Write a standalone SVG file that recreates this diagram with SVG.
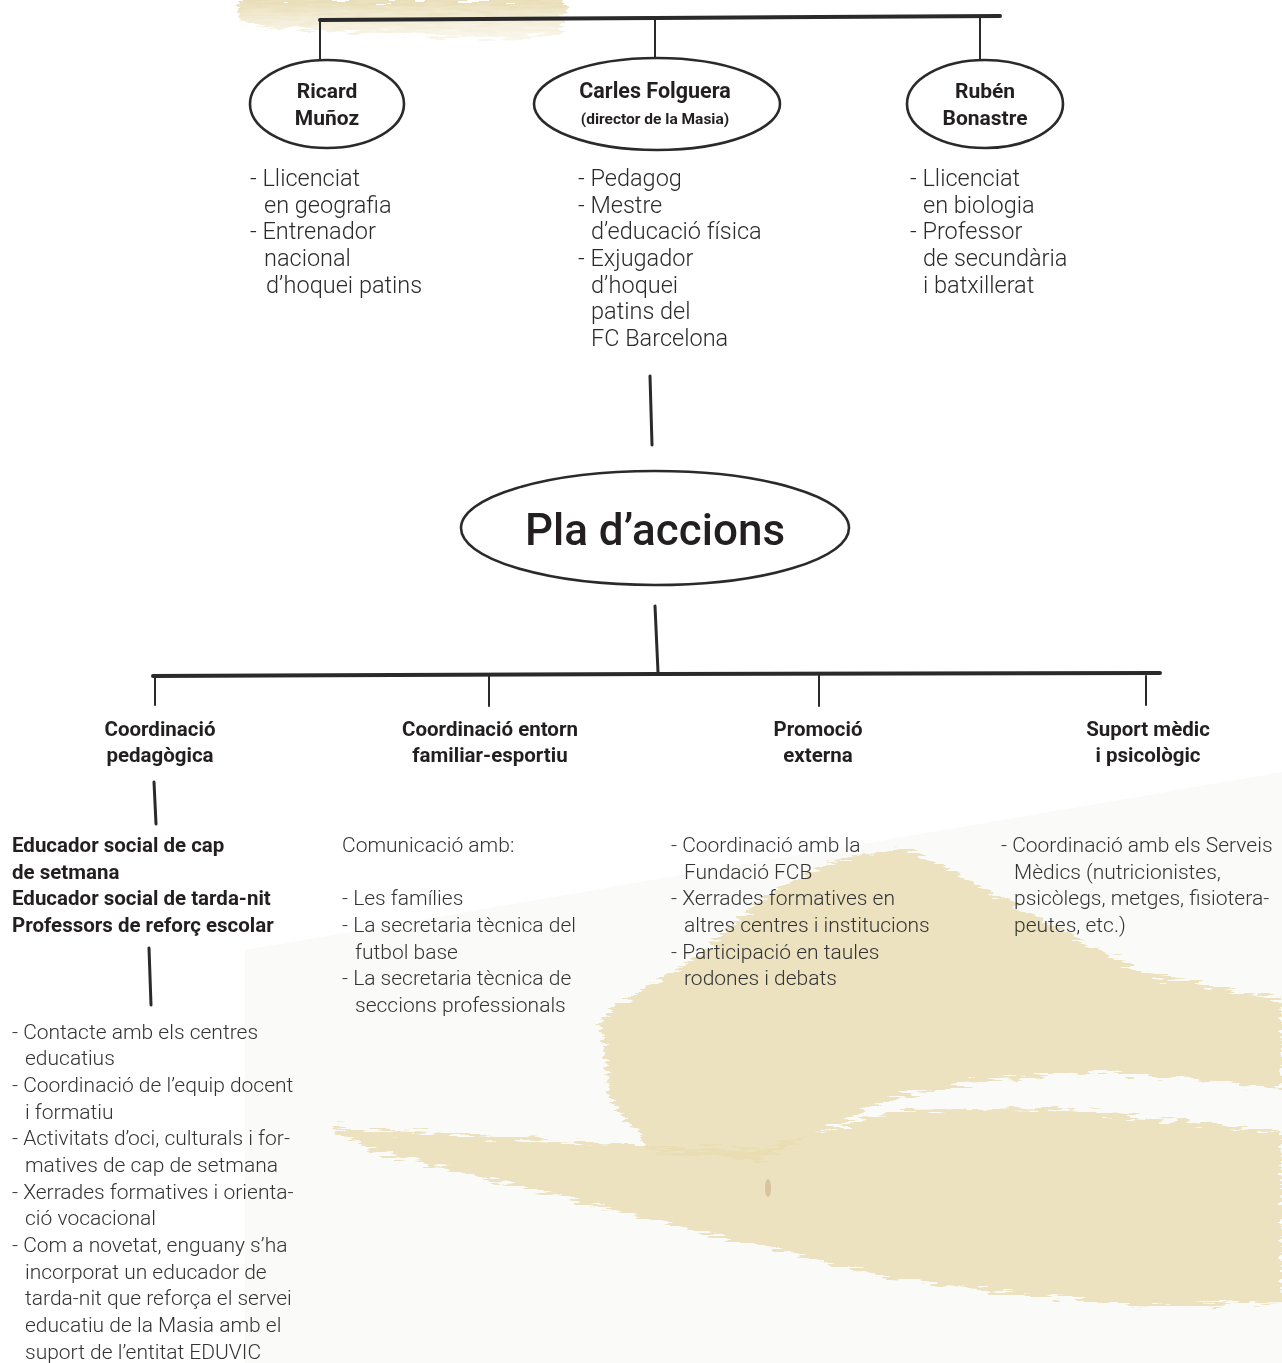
<svg xmlns="http://www.w3.org/2000/svg" width="1282" height="1363" viewBox="0 0 1282 1363">
<defs>
<filter id="rough" x="-5%" y="-5%" width="110%" height="110%">
<feTurbulence type="fractalNoise" baseFrequency="0.04 0.3" numOctaves="2" seed="3" result="n"/>
<feDisplacementMap in="SourceGraphic" in2="n" scale="18" xChannelSelector="R" yChannelSelector="G"/>
</filter>
<linearGradient id="topfade" x1="0" y1="0" x2="0" y2="1">
<stop offset="0" stop-color="#e6d9ae" stop-opacity="0.9"/>
<stop offset="1" stop-color="#efe6c8" stop-opacity="0.3"/>
</linearGradient>
</defs>
<style>
.bg{fill:#e8dcb2;opacity:0.8}
.ln{stroke:#2a2a2a;fill:none;stroke-linecap:round}
.el{fill:#ffffff;stroke:#2a2a2a;stroke-width:2.6}
.nm{font-family:Roboto,"Liberation Sans",sans-serif;font-weight:700;fill:#231f20;text-anchor:middle}
.tb{font-family:Roboto,"Liberation Sans",sans-serif;font-weight:300;font-size:23.5px;fill:#2b2b2b}
.hd{font-family:Roboto,"Liberation Sans",sans-serif;font-weight:700;font-size:20.5px;fill:#231f20;text-anchor:middle}
.bb{font-family:Roboto,"Liberation Sans",sans-serif;font-weight:700;font-size:20.5px;fill:#231f20}
.bd{font-family:Roboto,"Liberation Sans",sans-serif;font-weight:300;font-size:21px;fill:#333333}
</style>
<rect width="1282" height="1363" fill="#ffffff"/>
<g id="background">
<polygon points="245,950 1282,772 1282,1363 245,1363" fill="#fafaf8"/>
<g filter="url(#rough)">
<polygon points="238,0 565,0 562,32 520,40 440,36 350,32 270,28 240,20" fill="url(#topfade)"/>
<polygon class="bg" points="600,1020 640,990 700,955 760,900 830,862 900,848 960,875 1050,925 1150,975 1282,1000 1282,1088 1200,1080 1100,1072 1000,1078 900,1095 760,1160 650,1150 610,1100"/>
<polygon class="bg" points="330,1128 450,1134 600,1144 760,1150 900,1110 1050,1108 1282,1132 1282,1302 1150,1306 1000,1292 880,1276 700,1232 500,1182 370,1150"/>
</g>
<ellipse cx="768" cy="1188" rx="3" ry="9" fill="#b58a5a" opacity="0.35"/>
</g>
<g id="connectors">
<path class="ln" stroke-width="4" d="M320,20 L655,18 L1000,16"/>
<path class="ln" stroke-width="2" d="M320,20 V60 M655,18 V57 M980,17 V60"/>
<path class="ln" stroke-width="3" d="M650,376 L652,445"/>
<path class="ln" stroke-width="3" d="M655,606 L658,672"/>
<path class="ln" stroke-width="4" d="M153,676 L657,674 L1160,673"/>
<path class="ln" stroke-width="2" d="M155,676 V705 M489,676 V706 M819,675 V706 M1146,676 V705"/>
<path class="ln" stroke-width="3" d="M154,782 L156,824"/>
<path class="ln" stroke-width="3" d="M149,948 L151,1005"/>
</g>
<g id="node-ricard">
<ellipse class="el" cx="327" cy="104" rx="77" ry="44"/>
<text class="nm" font-size="21" x="327" y="98">Ricard</text>
<text class="nm" font-size="21" x="327" y="125">Muñoz</text>
<text class="tb" x="250" y="186">- Llicenciat</text>
<text class="tb" x="264" y="213">en geografia</text>
<text class="tb" x="250" y="239">- Entrenador</text>
<text class="tb" x="264" y="266">nacional</text>
<text class="tb" x="266" y="293">d’hoquei patins</text>
</g>
<g id="node-carles">
<ellipse class="el" cx="657" cy="104" rx="123" ry="46"/>
<text class="nm" font-size="21.5" x="655" y="98">Carles Folguera</text>
<text class="nm" font-size="15.5" x="655" y="124">(director de la Masia)</text>
<text class="tb" x="578" y="186">- Pedagog</text>
<text class="tb" x="578" y="213">- Mestre</text>
<text class="tb" x="591" y="239">d’educació física</text>
<text class="tb" x="578" y="266">- Exjugador</text>
<text class="tb" x="591" y="293">d’hoquei</text>
<text class="tb" x="591" y="319">patins del</text>
<text class="tb" x="591" y="346">FC Barcelona</text>
</g>
<g id="node-ruben">
<ellipse class="el" cx="985" cy="104" rx="78" ry="44"/>
<text class="nm" font-size="21" x="985" y="98">Rubén</text>
<text class="nm" font-size="21" x="985" y="125">Bonastre</text>
<text class="tb" x="910" y="186">- Llicenciat</text>
<text class="tb" x="923" y="213">en biologia</text>
<text class="tb" x="910" y="239">- Professor</text>
<text class="tb" x="923" y="266">de secundària</text>
<text class="tb" x="923" y="293">i batxillerat</text>
</g>
<g id="node-pla">
<ellipse class="el" cx="655" cy="528" rx="194" ry="57"/>
<text x="655" y="545" font-family="Roboto,'Liberation Sans',sans-serif" font-weight="500" font-size="44" fill="#231f20" text-anchor="middle">Pla d’accions</text>
</g>
<g id="node-pedagogica">
<text class="hd" x="160" y="736">Coordinació</text>
<text class="hd" x="160" y="762">pedagògica</text>
<text class="bb" x="12" y="852">Educador social de cap</text>
<text class="bb" x="12" y="879">de setmana</text>
<text class="bb" x="12" y="905">Educador social de tarda-nit</text>
<text class="bb" x="12" y="932">Professors de reforç escolar</text>
<text class="bd" x="12" y="1039">- Contacte amb els centres</text>
<text class="bd" x="25" y="1065">educatius</text>
<text class="bd" x="12" y="1092">- Coordinació de l’equip docent</text>
<text class="bd" x="25" y="1119">i formatiu</text>
<text class="bd" x="12" y="1145">- Activitats d’oci, culturals i for-</text>
<text class="bd" x="25" y="1172">matives de cap de setmana</text>
<text class="bd" x="12" y="1199">- Xerrades formatives i orienta-</text>
<text class="bd" x="25" y="1225">ció vocacional</text>
<text class="bd" x="12" y="1252">- Com a novetat, enguany s’ha</text>
<text class="bd" x="25" y="1279">incorporat un educador de</text>
<text class="bd" x="25" y="1305">tarda-nit que reforça el servei</text>
<text class="bd" x="25" y="1332">educatiu de la Masia amb el</text>
<text class="bd" x="25" y="1359">suport de l’entitat EDUVIC</text>
</g>
<g id="node-familiar">
<text class="hd" x="490" y="736">Coordinació entorn</text>
<text class="hd" x="490" y="762">familiar-esportiu</text>
<text class="bd" x="342" y="852">Comunicació amb:</text>
<text class="bd" x="342" y="905">- Les famílies</text>
<text class="bd" x="342" y="932">- La secretaria tècnica del</text>
<text class="bd" x="355" y="959">futbol base</text>
<text class="bd" x="342" y="985">- La secretaria tècnica de</text>
<text class="bd" x="355" y="1012">seccions professionals</text>
</g>
<g id="node-promocio">
<text class="hd" x="818" y="736">Promoció</text>
<text class="hd" x="818" y="762">externa</text>
<text class="bd" x="671" y="852">- Coordinació amb la</text>
<text class="bd" x="684" y="879">Fundació FCB</text>
<text class="bd" x="671" y="905">- Xerrades formatives en</text>
<text class="bd" x="684" y="932">altres centres i institucions</text>
<text class="bd" x="671" y="959">- Participació en taules</text>
<text class="bd" x="684" y="985">rodones i debats</text>
</g>
<g id="node-suport">
<text class="hd" x="1148" y="736">Suport mèdic</text>
<text class="hd" x="1148" y="762">i psicològic</text>
<text class="bd" x="1001" y="852">- Coordinació amb els Serveis</text>
<text class="bd" x="1014" y="879">Mèdics (nutricionistes,</text>
<text class="bd" x="1014" y="905">psicòlegs, metges, fisiotera-</text>
<text class="bd" x="1014" y="932">peutes, etc.)</text>
</g>
</svg>
